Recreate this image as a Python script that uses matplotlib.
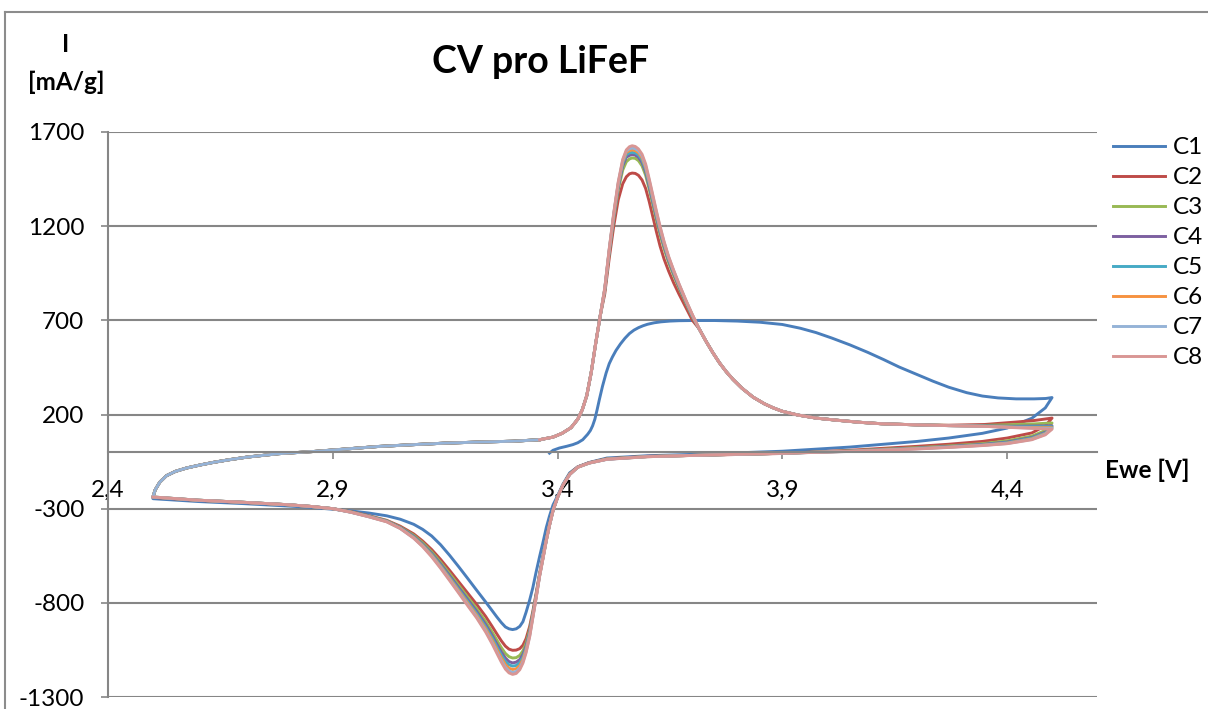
import matplotlib
matplotlib.use("Agg")
import matplotlib.pyplot as plt
from matplotlib.lines import Line2D

plt.rcParams['font.family'] = ['Lato', 'DejaVu Sans']
plt.rcParams['axes.unicode_minus'] = False

# ---- potentials (V) ----
# C1 starts at open circuit and goes anodic
E_c1_an = [3.382, 3.39, 3.404, 3.42, 3.434, 3.445, 3.456, 3.467, 3.473, 3.478,
           3.483, 3.488, 3.493, 3.50, 3.508, 3.515, 3.522, 3.53, 3.54, 3.55,
           3.56, 3.57, 3.58, 3.59, 3.60, 3.615, 3.63, 3.65, 3.67, 3.70,
           3.75, 3.80, 3.85, 3.90, 3.94, 3.975, 4.01, 4.05, 4.09, 4.125,
           4.16, 4.20, 4.235, 4.27, 4.31, 4.345, 4.38, 4.42, 4.46, 4.486, 4.50]
# anodic sweep of C2..C8: onset, peak, tail, end
E_rise = [3.36, 3.39, 3.41, 3.43, 3.445, 3.455, 3.465, 3.475, 3.485, 3.495]
E_peak = [3.505, 3.515, 3.525, 3.535, 3.545, 3.553, 3.56, 3.566, 3.573, 3.58, 3.588,
          3.596, 3.604, 3.612, 3.62, 3.628, 3.637, 3.647, 3.658, 3.67, 3.685, 3.70]
E_tail = [3.715, 3.73, 3.745, 3.76, 3.775, 3.79, 3.81, 3.835, 3.86, 3.88, 3.90,
          3.935, 3.975, 4.02, 4.07, 4.12, 4.20]
E_end = [4.27, 4.35, 4.42, 4.46, 4.50]
# cathodic sweep 4.5 -> 2.5
E_cat = [4.50, 4.485, 4.455, 4.40, 4.345, 4.27, 4.20, 4.05, 3.90, 3.75, 3.60, 3.51, 3.47, 3.445, 3.427,
         3.412, 3.40, 3.39, 3.382, 3.375, 3.368, 3.36, 3.352, 3.345, 3.338, 3.33, 3.323, 3.316, 3.308,
         3.30, 3.292, 3.284, 3.275, 3.265, 3.255, 3.24, 3.22, 3.20, 3.18, 3.16, 3.14, 3.12, 3.10, 3.08,
         3.05, 3.02, 2.98, 2.94, 2.90, 2.85, 2.80, 2.70, 2.60, 2.50]
# anodic sweep 2.5 -> 3.36 closing each cycle (C1..C7)
E_an_low = [2.50, 2.505, 2.515, 2.53, 2.55, 2.575, 2.605, 2.635, 2.67, 2.71, 2.78, 2.86, 2.93, 3.00,
            3.08, 3.15, 3.23, 3.30, 3.36]

# ---- currents (mA/g) ----
I_an_low = [-238, -200, -160, -125, -102, -84, -68, -54, -40, -26, -8, 4, 17, 30, 40, 48, 54, 58, 66]
I_rise = [66, 80, 100, 130, 175, 225, 300, 425, 580, 725]
I_tail = [655, 590, 530, 475, 428, 387, 340, 292, 257, 235, 217, 197, 181, 170, 159, 151, 145]

I_c1_an = [-5, 10, 22, 31, 40, 50, 66, 95, 115, 140, 175, 225, 279, 350, 420, 470, 505, 540, 575, 605,
           630, 648, 661, 671, 679, 687, 692, 696, 698, 699, 699, 696, 690, 678, 658, 635, 606, 570,
           530, 492, 452, 412, 377, 345, 316, 298, 288, 283, 283, 285, 290]

I_c2_peak = [840, 1030, 1200, 1340, 1425, 1462, 1478, 1482, 1480, 1470, 1445, 1400,
             1330, 1250, 1170, 1095, 1025, 962, 900, 840, 770, 700]
I_c3_peak = [858, 1058, 1240, 1392, 1498, 1542, 1557, 1562, 1560, 1548, 1520, 1470,
             1395, 1313, 1232, 1155, 1080, 1007, 940, 872, 793, 717]
I_c4_peak = [862, 1065, 1250, 1408, 1520, 1566, 1576, 1580, 1577, 1565, 1538, 1487,
             1410, 1327, 1246, 1168, 1093, 1018, 950, 880, 799, 721]
I_c5_peak = [865, 1070, 1257, 1418, 1532, 1580, 1589, 1592, 1589, 1578, 1551, 1500,
             1422, 1338, 1256, 1178, 1102, 1026, 956, 886, 803, 724]
I_c6_peak = [867, 1074, 1262, 1425, 1542, 1592, 1601, 1605, 1601, 1590, 1563, 1512,
             1434, 1350, 1266, 1187, 1109, 1032, 962, 890, 806, 727]
I_c7_peak = [868, 1077, 1266, 1430, 1549, 1599, 1611, 1615, 1611, 1600, 1573, 1521,
             1442, 1358, 1273, 1194, 1114, 1036, 965, 893, 808, 728]
I_c8_peak = [870, 1080, 1270, 1435, 1555, 1605, 1622, 1627, 1623, 1610, 1582, 1530,
             1450, 1365, 1280, 1200, 1118, 1040, 968, 895, 810, 730]

I_c2_end = [143, 147, 160, 168, 181]
I_c3_end = [142, 142, 147, 150, 155]
I_c4_end = [141, 139, 138, 139, 140]
I_c5_end = [141, 138, 135, 135, 135]
I_c6_end = [141, 137, 132, 131, 130]
I_c7_end = [141, 137, 131, 128, 126]
I_c8_end = [141, 137, 130, 126, 122]

I_c1_cat = [290, 235, 180, 128, 100, 75, 57, 27, 5, -8, -19, -31, -55, -78, -110,
            -170, -232, -280, -340, -400, -475, -555, -640, -720, -785, -850, -900, -925, -938,
            -942, -938, -928, -905, -875, -843, -795, -733, -670, -608, -548, -492, -445, -410, -383,
            -356, -338, -323, -312, -303, -293, -286, -273, -262, -247]
I_c2_cat = [181, 140, 102, 75, 57, 42, 31, 10, -7, -15, -22, -35, -56, -78, -115,
            -175, -240, -308, -385, -462, -548, -645, -755, -845, -925, -990, -1025, -1043, -1051,
            -1052, -1046, -1030, -1002, -965, -927, -872, -808, -748, -688, -628, -570, -517, -472, -434,
            -393, -362, -337, -316, -300, -288, -279, -267, -256, -240]
I_c3_cat = [155, 115, 85, 60, 45, 33, 24, 7, -6, -14, -23, -36, -57, -79, -117,
            -175, -240, -309, -387, -465, -552, -650, -763, -856, -943, -1014, -1055, -1079, -1091,
            -1093, -1086, -1069, -1038, -998, -957, -899, -831, -769, -707, -645, -585, -529, -481, -441,
            -398, -364, -339, -317, -300, -288, -279, -266, -255, -239]
I_c4_cat = [140, 106, 78, 54, 41, 30, 21, 6, -6, -14, -23, -37, -57, -79, -118,
            -175, -240, -309, -388, -466, -554, -653, -768, -863, -954, -1029, -1074, -1101, -1115,
            -1119, -1112, -1093, -1061, -1019, -975, -915, -845, -782, -719, -656, -594, -537, -488, -446,
            -400, -366, -340, -318, -300, -288, -279, -266, -255, -239]
I_c5_cat = [135, 102, 75, 51, 39, 28, 20, 5, -6, -14, -23, -37, -58, -80, -118,
            -175, -240, -309, -388, -467, -556, -655, -772, -868, -961, -1040, -1088, -1117, -1133,
            -1136, -1129, -1111, -1077, -1033, -988, -927, -856, -792, -728, -664, -601, -542, -492, -450,
            -402, -367, -341, -318, -300, -288, -279, -266, -255, -238]
I_c6_cat = [130, 98, 71, 48, 37, 27, 19, 5, -6, -14, -24, -37, -58, -80, -118,
            -175, -240, -310, -389, -468, -558, -657, -775, -873, -969, -1050, -1101, -1133, -1150,
            -1154, -1147, -1128, -1092, -1047, -1001, -938, -866, -801, -736, -671, -607, -547, -496, -453,
            -404, -368, -342, -318, -300, -288, -279, -266, -255, -238]
I_c7_cat = [126, 95, 68, 46, 36, 26, 18, 4, -6, -14, -24, -38, -58, -80, -119,
            -175, -240, -310, -390, -469, -559, -659, -778, -877, -976, -1059, -1112, -1146, -1165,
            -1170, -1162, -1142, -1106, -1060, -1013, -948, -874, -809, -743, -677, -612, -552, -500, -456,
            -405, -369, -343, -319, -300, -288, -279, -266, -255, -238]
I_c8_cat = [122, 92, 66, 45, 35, 25, 17, 4, -6, -14, -24, -38, -58, -80, -119,
            -175, -240, -310, -390, -470, -560, -660, -780, -880, -980, -1065, -1120, -1155, -1175,
            -1180, -1172, -1152, -1115, -1068, -1020, -955, -880, -815, -748, -682, -617, -556, -502, -457,
            -405, -370, -343, -319, -300, -288, -279, -266, -255, -238]

labels = ['C1', 'C2', 'C3', 'C4', 'C5', 'C6', 'C7', 'C8']
colors = ['#4A7EBB', '#BE4B48', '#98B954', '#7D60A0', '#46AAC5', '#F69240', '#95B3D7', '#D99694']

x_ticks = [2.4, 2.9, 3.4, 3.9, 4.4]
x_ticklabels = ['2,4', '2,9', '3,4', '3,9', '4,4']
y_ticks = [-1300, -800, -300, 200, 700, 1200, 1700]

E_an = E_rise + E_peak + E_tail + E_end


def anodic(peak, end):
    return I_rise + peak + I_tail + end


# one continuous path per cycle; the last one stops at 2.5 V
cycles = [
    (E_c1_an + E_cat + E_an_low, I_c1_an + I_c1_cat + I_an_low),
    (E_an + E_cat + E_an_low, anodic(I_c2_peak, I_c2_end) + I_c2_cat + I_an_low),
    (E_an + E_cat + E_an_low, anodic(I_c3_peak, I_c3_end) + I_c3_cat + I_an_low),
    (E_an + E_cat + E_an_low, anodic(I_c4_peak, I_c4_end) + I_c4_cat + I_an_low),
    (E_an + E_cat + E_an_low, anodic(I_c5_peak, I_c5_end) + I_c5_cat + I_an_low),
    (E_an + E_cat + E_an_low, anodic(I_c6_peak, I_c6_end) + I_c6_cat + I_an_low),
    (E_an + E_cat + E_an_low, anodic(I_c7_peak, I_c7_end) + I_c7_cat + I_an_low),
    (E_an + E_cat, anodic(I_c8_peak, I_c8_end) + I_c8_cat),
]

W, H = 1208, 709
fig = plt.figure(figsize=(W / 100, H / 100), dpi=100)
ax = fig.add_axes([108 / W, 1 - 697 / H, 989 / W, 565 / H])

grid_col = '#868686'
for (e, i), lab, col in zip(cycles, labels, colors):
    ax.plot(e, i, color=col, lw=2.1, label=lab, solid_joinstyle='round')

ax.set_xlim(2.4, 4.6)
ax.set_ylim(-1300, 1700)
ax.set_xticks(x_ticks)
ax.set_xticklabels(x_ticklabels)
ax.set_yticks(y_ticks)
ax.set_yticklabels([str(v) for v in y_ticks])
ax.yaxis.grid(True, color=grid_col, lw=1.5)
ax.set_axisbelow(True)

ax.spines['top'].set_visible(False)
ax.spines['right'].set_visible(False)
ax.spines['bottom'].set_position(('data', 0))
ax.spines['bottom'].set_color(grid_col)
ax.spines['bottom'].set_linewidth(1.5)
ax.spines['left'].set_color(grid_col)
ax.spines['left'].set_linewidth(1.5)
ax.tick_params(axis='x', direction='out', length=5, width=1.2, color=grid_col, pad=15, labelsize=17.5)
ax.tick_params(axis='y', direction='out', length=5, width=1.2, color=grid_col, pad=12, labelsize=17.5)

fig.text(541 / W, 1 - 62 / H, 'CV pro LiFeF', fontsize=27, fontweight='bold', ha='center', va='center')
fig.text(66 / W, 1 - 44 / H, 'I', fontsize=17.5, fontweight='bold', ha='center', va='center')
fig.text(66 / W, 1 - 82 / H, '[mA/g]', fontsize=17.5, fontweight='bold', ha='center', va='center')
fig.text(1147 / W, 1 - 470 / H, 'Ewe [V]', fontsize=17.5, fontweight='bold', ha='center', va='center')

ax.legend(loc='upper left', bbox_to_anchor=(1113 / W, 1 - 137 / H), bbox_transform=fig.transFigure,
          frameon=False, fontsize=17.5, handlelength=2.15, handletextpad=0.3, labelspacing=0.37,
          borderaxespad=0, borderpad=0)

# outer chart border
fig.add_artist(Line2D([5 / W, 5 / W], [0, 1 - 12 / H], transform=fig.transFigure, color='#8c8c8c', lw=1.5))
fig.add_artist(Line2D([5 / W, 1], [1 - 12 / H, 1 - 12 / H], transform=fig.transFigure, color='#8c8c8c', lw=1.5))

fig.savefig('out.png', dpi=100)
